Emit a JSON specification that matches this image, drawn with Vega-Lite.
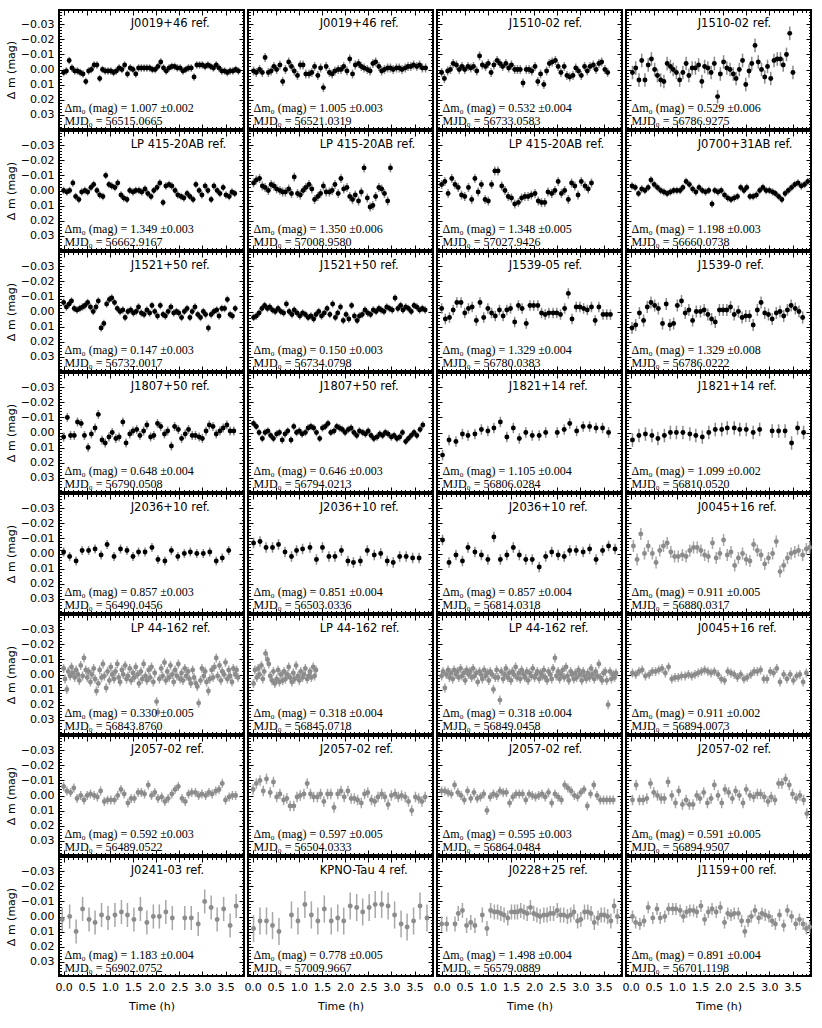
{
"$schema":"https://vega.github.io/schema/vega-lite/v6.json",
"padding":{"left":5,"top":9,"right":5,"bottom":5},
"background":"white",
"data":{"values":[
{"p":1,"n":"J0019+46 ref.","s":"Δm₀ (mag)  =  1.007 ±0.002\nMJD₀  =  56515.0665","e":0.0025},
{"p":2,"n":"J0019+46 ref.","s":"Δm₀ (mag)  =  1.005 ±0.003\nMJD₀  =  56521.0319","e":0.003},
{"p":3,"n":"J1510-02 ref.","s":"Δm₀ (mag)  =  0.532 ±0.004\nMJD₀  =  56733.0583","e":0.003},
{"p":4,"n":"J1510-02 ref.","s":"Δm₀ (mag)  =  0.529 ±0.006\nMJD₀  =  56786.9275","e":0.0045},
{"p":5,"n":"LP 415-20AB ref.","s":"Δm₀ (mag)  =  1.349 ±0.003\nMJD₀  =  56662.9167","e":0.0025},
{"p":6,"n":"LP 415-20AB ref.","s":"Δm₀ (mag)  =  1.350 ±0.006\nMJD₀  =  57008.9580","e":0.003},
{"p":7,"n":"LP 415-20AB ref.","s":"Δm₀ (mag)  =  1.348 ±0.005\nMJD₀  =  57027.9426","e":0.003},
{"p":8,"n":"J0700+31AB ref.","s":"Δm₀ (mag)  =  1.198 ±0.003\nMJD₀  =  56660.0738","e":0.0025},
{"p":9,"n":"J1521+50 ref.","s":"Δm₀ (mag)  =  0.147 ±0.003\nMJD₀  =  56732.0017","e":0.0025},
{"p":10,"n":"J1521+50 ref.","s":"Δm₀ (mag)  =  0.150 ±0.003\nMJD₀  =  56734.0798","e":0.0025},
{"p":11,"n":"J1539-05 ref.","s":"Δm₀ (mag)  =  1.329 ±0.004\nMJD₀  =  56780.0383","e":0.0035},
{"p":12,"n":"J1539-0 ref.","s":"Δm₀ (mag)  =  1.329 ±0.008\nMJD₀  =  56786.0222","e":0.004},
{"p":13,"n":"J1807+50 ref.","s":"Δm₀ (mag)  =  0.648 ±0.004\nMJD₀  =  56790.0508","e":0.003},
{"p":14,"n":"J1807+50 ref.","s":"Δm₀ (mag)  =  0.646 ±0.003\nMJD₀  =  56794.0213","e":0.0025},
{"p":15,"n":"J1821+14 ref.","s":"Δm₀ (mag)  =  1.105 ±0.004\nMJD₀  =  56806.0284","e":0.0035},
{"p":16,"n":"J1821+14 ref.","s":"Δm₀ (mag)  =  1.099 ±0.002\nMJD₀  =  56810.0520","e":0.0045},
{"p":17,"n":"J2036+10 ref.","s":"Δm₀ (mag)  =  0.857 ±0.003\nMJD₀  =  56490.0456","e":0.003},
{"p":18,"n":"J2036+10 ref.","s":"Δm₀ (mag)  =  0.851 ±0.004\nMJD₀  =  56503.0336","e":0.0035},
{"p":19,"n":"J2036+10 ref.","s":"Δm₀ (mag)  =  0.857 ±0.004\nMJD₀  =  56814.0318","e":0.0035},
{"p":20,"n":"J0045+16 ref.","s":"Δm₀ (mag)  =  0.911 ±0.005\nMJD₀  =  56880.0317","e":0.004},
{"p":21,"n":"LP 44-162 ref.","s":"Δm₀ (mag)  =  0.330 ±0.005\nMJD₀  =  56843.8760","e":0.003},
{"p":22,"n":"LP 44-162 ref.","s":"Δm₀ (mag)  =  0.318 ±0.004\nMJD₀  =  56845.0718","e":0.003},
{"p":23,"n":"LP 44-162 ref.","s":"Δm₀ (mag)  =  0.318 ±0.004\nMJD₀  =  56849.0458","e":0.003},
{"p":24,"n":"J0045+16 ref.","s":"Δm₀ (mag)  =  0.911 ±0.002\nMJD₀  =  56894.0073","e":0.003},
{"p":25,"n":"J2057-02 ref.","s":"Δm₀ (mag)  =  0.592 ±0.003\nMJD₀  =  56489.0522","e":0.003},
{"p":26,"n":"J2057-02 ref.","s":"Δm₀ (mag)  =  0.597 ±0.005\nMJD₀  =  56504.0333","e":0.0035},
{"p":27,"n":"J2057-02 ref.","s":"Δm₀ (mag)  =  0.595 ±0.003\nMJD₀  =  56864.0484","e":0.003},
{"p":28,"n":"J2057-02 ref.","s":"Δm₀ (mag)  =  0.591 ±0.005\nMJD₀  =  56894.9507","e":0.0035},
{"p":29,"n":"J0241-03 ref.","s":"Δm₀ (mag)  =  1.183 ±0.004\nMJD₀  =  56902.0752","e":0.008},
{"p":30,"n":"KPNO-Tau 4 ref.","s":"Δm₀ (mag)  =  0.778 ±0.005\nMJD₀  =  57009.9667","e":0.009},
{"p":31,"n":"J0228+25 ref.","s":"Δm₀ (mag)  =  1.498 ±0.004\nMJD₀  =  56579.0889","e":0.005},
{"p":32,"n":"J1159+00 ref.","s":"Δm₀ (mag)  =  0.891 ±0.004\nMJD₀  =  56701.1198","e":0.004},
{"p":1,"t":0,"m":0.002},{"p":1,"t":0.06,"m":0.001},{"p":1,"t":0.12,"m":-0.006},{"p":1,"t":0.18,"m":-0.001},{"p":1,"t":0.24,"m":0.001},{"p":1,"t":0.3,"m":0.001},{"p":1,"t":0.36,"m":0.002},{"p":1,"t":0.42,"m":0.003},{"p":1,"t":0.48,"m":0.008},{"p":1,"t":0.54,"m":0.001},{"p":1,"t":0.6,"m":0},{"p":1,"t":0.66,"m":-0.003},{"p":1,"t":0.72,"m":-0.003},{"p":1,"t":0.78,"m":0.006},{"p":1,"t":0.84,"m":0},{"p":1,"t":0.9,"m":0.001},{"p":1,"t":0.96,"m":0.001},{"p":1,"t":1.02,"m":0.001},{"p":1,"t":1.08,"m":0.002},{"p":1,"t":1.14,"m":0.001},{"p":1,"t":1.2,"m":-0.001},{"p":1,"t":1.26,"m":0},{"p":1,"t":1.32,"m":-0.003},{"p":1,"t":1.38,"m":0.003},{"p":1,"t":1.44,"m":-0.001},{"p":1,"t":1.5,"m":0},{"p":1,"t":1.56,"m":0.003},{"p":1,"t":1.62,"m":-0.001},{"p":1,"t":1.68,"m":-0.001},{"p":1,"t":1.74,"m":-0.001},{"p":1,"t":1.8,"m":-0.001},{"p":1,"t":1.86,"m":-0.001},{"p":1,"t":1.92,"m":0},{"p":1,"t":1.98,"m":0},{"p":1,"t":2.04,"m":-0.002},{"p":1,"t":2.1,"m":-0.005},{"p":1,"t":2.16,"m":-0.001},{"p":1,"t":2.22,"m":0.001},{"p":1,"t":2.28,"m":-0.001},{"p":1,"t":2.34,"m":-0.002},{"p":1,"t":2.4,"m":-0.002},{"p":1,"t":2.46,"m":-0.001},{"p":1,"t":2.52,"m":-0.001},{"p":1,"t":2.58,"m":0.001},{"p":1,"t":2.64,"m":0},{"p":1,"t":2.7,"m":-0.001},{"p":1,"t":2.76,"m":-0.001},{"p":1,"t":2.82,"m":0.005},{"p":1,"t":2.88,"m":-0.003},{"p":1,"t":2.94,"m":-0.003},{"p":1,"t":3,"m":-0.003},{"p":1,"t":3.06,"m":-0.002},{"p":1,"t":3.12,"m":-0.003},{"p":1,"t":3.18,"m":-0.002},{"p":1,"t":3.24,"m":-0.001},{"p":1,"t":3.3,"m":-0.003},{"p":1,"t":3.36,"m":-0.001},{"p":1,"t":3.42,"m":0.001},{"p":1,"t":3.48,"m":0.001},{"p":1,"t":3.54,"m":0.002},{"p":1,"t":3.6,"m":0.001},{"p":1,"t":3.66,"m":0.001},{"p":1,"t":3.72,"m":0},{"p":1,"t":3.78,"m":0.001},
{"p":2,"t":0.02,"m":0.001},{"p":2,"t":0.08,"m":0.002},{"p":2,"t":0.15,"m":0},{"p":2,"t":0.21,"m":0.002},{"p":2,"t":0.27,"m":-0.008},{"p":2,"t":0.34,"m":0.002},{"p":2,"t":0.4,"m":0.001},{"p":2,"t":0.46,"m":-0.002},{"p":2,"t":0.52,"m":0},{"p":2,"t":0.59,"m":-0.003},{"p":2,"t":0.65,"m":0.008},{"p":2,"t":0.71,"m":0},{"p":2,"t":0.78,"m":-0.005},{"p":2,"t":0.84,"m":-0.002},{"p":2,"t":0.9,"m":0.001},{"p":2,"t":0.97,"m":0.004},{"p":2,"t":1.03,"m":-0.003},{"p":2,"t":1.09,"m":-0.003},{"p":2,"t":1.15,"m":0.003},{"p":2,"t":1.22,"m":0.003},{"p":2,"t":1.28,"m":0.002},{"p":2,"t":1.34,"m":-0.002},{"p":2,"t":1.41,"m":0.004},{"p":2,"t":1.47,"m":-0.001},{"p":2,"t":1.53,"m":0.012},{"p":2,"t":1.59,"m":-0.002},{"p":2,"t":1.66,"m":0.002},{"p":2,"t":1.72,"m":0.003},{"p":2,"t":1.78,"m":0.001},{"p":2,"t":1.85,"m":0},{"p":2,"t":1.91,"m":0},{"p":2,"t":1.97,"m":-0.002},{"p":2,"t":2.04,"m":0.001},{"p":2,"t":2.1,"m":-0.007},{"p":2,"t":2.16,"m":0.003},{"p":2,"t":2.22,"m":-0.003},{"p":2,"t":2.29,"m":-0.004},{"p":2,"t":2.35,"m":-0.002},{"p":2,"t":2.41,"m":-0.001},{"p":2,"t":2.48,"m":0},{"p":2,"t":2.54,"m":0.001},{"p":2,"t":2.6,"m":-0.004},{"p":2,"t":2.66,"m":-0.005},{"p":2,"t":2.73,"m":-0.002},{"p":2,"t":2.79,"m":0.001},{"p":2,"t":2.85,"m":0},{"p":2,"t":2.92,"m":-0.001},{"p":2,"t":2.98,"m":-0.001},{"p":2,"t":3.04,"m":0},{"p":2,"t":3.11,"m":-0.001},{"p":2,"t":3.17,"m":-0.001},{"p":2,"t":3.23,"m":0},{"p":2,"t":3.3,"m":-0.001},{"p":2,"t":3.36,"m":-0.002},{"p":2,"t":3.42,"m":-0.002},{"p":2,"t":3.48,"m":-0.003},{"p":2,"t":3.55,"m":-0.002},{"p":2,"t":3.61,"m":-0.003},{"p":2,"t":3.67,"m":-0.001},{"p":2,"t":3.74,"m":-0.001},
{"p":3,"t":0,"m":0.002},{"p":3,"t":0.06,"m":0.006},{"p":3,"t":0.13,"m":0.001},{"p":3,"t":0.19,"m":0},{"p":3,"t":0.25,"m":-0.004},{"p":3,"t":0.32,"m":-0.003},{"p":3,"t":0.38,"m":0},{"p":3,"t":0.44,"m":-0.002},{"p":3,"t":0.5,"m":0},{"p":3,"t":0.57,"m":-0.002},{"p":3,"t":0.63,"m":-0.001},{"p":3,"t":0.69,"m":-0.002},{"p":3,"t":0.76,"m":0.001},{"p":3,"t":0.82,"m":-0.009},{"p":3,"t":0.88,"m":-0.003},{"p":3,"t":0.95,"m":-0.002},{"p":3,"t":1.01,"m":-0.004},{"p":3,"t":1.07,"m":0.002},{"p":3,"t":1.13,"m":-0.003},{"p":3,"t":1.2,"m":-0.006},{"p":3,"t":1.26,"m":-0.004},{"p":3,"t":1.32,"m":-0.002},{"p":3,"t":1.39,"m":-0.004},{"p":3,"t":1.45,"m":-0.001},{"p":3,"t":1.51,"m":-0.003},{"p":3,"t":1.58,"m":0},{"p":3,"t":1.64,"m":0},{"p":3,"t":1.7,"m":0},{"p":3,"t":1.76,"m":0.009},{"p":3,"t":1.83,"m":0},{"p":3,"t":1.89,"m":0},{"p":3,"t":1.95,"m":0.001},{"p":3,"t":2.02,"m":-0.002},{"p":3,"t":2.08,"m":0.008},{"p":3,"t":2.14,"m":0.003},{"p":3,"t":2.21,"m":0.01},{"p":3,"t":2.27,"m":0.001},{"p":3,"t":2.33,"m":-0.004},{"p":3,"t":2.39,"m":-0.005},{"p":3,"t":2.46,"m":-0.006},{"p":3,"t":2.52,"m":-0.002},{"p":3,"t":2.58,"m":0.002},{"p":3,"t":2.65,"m":-0.002},{"p":3,"t":2.71,"m":0.004},{"p":3,"t":2.77,"m":0.005},{"p":3,"t":2.84,"m":0.004},{"p":3,"t":2.9,"m":-0.001},{"p":3,"t":2.96,"m":0.001},{"p":3,"t":3.02,"m":0.004},{"p":3,"t":3.09,"m":-0.002},{"p":3,"t":3.15,"m":0.001},{"p":3,"t":3.21,"m":-0.002},{"p":3,"t":3.28,"m":-0.003},{"p":3,"t":3.34,"m":0},{"p":3,"t":3.4,"m":-0.004},{"p":3,"t":3.46,"m":-0.005},{"p":3,"t":3.53,"m":0},{"p":3,"t":3.59,"m":0.002},
{"p":4,"t":0.04,"m":0.002},{"p":4,"t":0.11,"m":-0.001},{"p":4,"t":0.18,"m":0.007},{"p":4,"t":0.24,"m":-0.006},{"p":4,"t":0.31,"m":0.007},{"p":4,"t":0.38,"m":-0.003},{"p":4,"t":0.45,"m":-0.007},{"p":4,"t":0.52,"m":0},{"p":4,"t":0.58,"m":0.004},{"p":4,"t":0.65,"m":0.007},{"p":4,"t":0.72,"m":0.008},{"p":4,"t":0.79,"m":-0.004},{"p":4,"t":0.86,"m":-0.002},{"p":4,"t":0.92,"m":0},{"p":4,"t":0.99,"m":0.002},{"p":4,"t":1.06,"m":0.007},{"p":4,"t":1.13,"m":0.002},{"p":4,"t":1.2,"m":-0.004},{"p":4,"t":1.26,"m":0.004},{"p":4,"t":1.33,"m":-0.001},{"p":4,"t":1.4,"m":-0.001},{"p":4,"t":1.47,"m":-0.003},{"p":4,"t":1.54,"m":0.008},{"p":4,"t":1.6,"m":-0.002},{"p":4,"t":1.67,"m":-0.001},{"p":4,"t":1.74,"m":0.002},{"p":4,"t":1.81,"m":-0.004},{"p":4,"t":1.88,"m":0.018},{"p":4,"t":1.94,"m":0.003},{"p":4,"t":2.01,"m":-0.005},{"p":4,"t":2.08,"m":-0.001},{"p":4,"t":2.15,"m":0},{"p":4,"t":2.22,"m":0.003},{"p":4,"t":2.28,"m":0.006},{"p":4,"t":2.35,"m":0},{"p":4,"t":2.42,"m":-0.006},{"p":4,"t":2.49,"m":0.01},{"p":4,"t":2.56,"m":0.001},{"p":4,"t":2.62,"m":-0.004},{"p":4,"t":2.69,"m":-0.016},{"p":4,"t":2.76,"m":-0.005},{"p":4,"t":2.83,"m":0},{"p":4,"t":2.9,"m":0.005},{"p":4,"t":2.96,"m":-0.002},{"p":4,"t":3.03,"m":0.006},{"p":4,"t":3.1,"m":-0.006},{"p":4,"t":3.17,"m":-0.007},{"p":4,"t":3.24,"m":-0.007},{"p":4,"t":3.3,"m":-0.003},{"p":4,"t":3.37,"m":-0.01},{"p":4,"t":3.44,"m":-0.024},{"p":4,"t":3.51,"m":0.002},
{"p":5,"t":0,"m":0},{"p":5,"t":0.07,"m":0.001},{"p":5,"t":0.13,"m":0},{"p":5,"t":0.2,"m":-0.005},{"p":5,"t":0.26,"m":0.004},{"p":5,"t":0.33,"m":0.006},{"p":5,"t":0.39,"m":0.001},{"p":5,"t":0.46,"m":0},{"p":5,"t":0.52,"m":0.001},{"p":5,"t":0.59,"m":-0.002},{"p":5,"t":0.65,"m":-0.004},{"p":5,"t":0.72,"m":0},{"p":5,"t":0.78,"m":0.003},{"p":5,"t":0.85,"m":0.004},{"p":5,"t":0.91,"m":-0.01},{"p":5,"t":0.98,"m":-0.004},{"p":5,"t":1.04,"m":-0.003},{"p":5,"t":1.11,"m":-0.002},{"p":5,"t":1.17,"m":-0.005},{"p":5,"t":1.24,"m":0.003},{"p":5,"t":1.3,"m":0.005},{"p":5,"t":1.37,"m":0.006},{"p":5,"t":1.43,"m":0},{"p":5,"t":1.5,"m":0.001},{"p":5,"t":1.56,"m":0},{"p":5,"t":1.63,"m":0},{"p":5,"t":1.69,"m":0.001},{"p":5,"t":1.76,"m":-0.001},{"p":5,"t":1.82,"m":0.002},{"p":5,"t":1.89,"m":0.004},{"p":5,"t":1.95,"m":0},{"p":5,"t":2.02,"m":-0.002},{"p":5,"t":2.08,"m":-0.005},{"p":5,"t":2.15,"m":0.008},{"p":5,"t":2.21,"m":-0.003},{"p":5,"t":2.28,"m":-0.004},{"p":5,"t":2.34,"m":-0.003},{"p":5,"t":2.41,"m":0},{"p":5,"t":2.47,"m":0.003},{"p":5,"t":2.54,"m":0.004},{"p":5,"t":2.6,"m":0.005},{"p":5,"t":2.67,"m":0.002},{"p":5,"t":2.73,"m":0.004},{"p":5,"t":2.8,"m":0.006},{"p":5,"t":2.86,"m":-0.004},{"p":5,"t":2.93,"m":0},{"p":5,"t":2.99,"m":0.003},{"p":5,"t":3.06,"m":-0.003},{"p":5,"t":3.12,"m":0},{"p":5,"t":3.19,"m":0.006},{"p":5,"t":3.25,"m":-0.003},{"p":5,"t":3.32,"m":0},{"p":5,"t":3.38,"m":0.002},{"p":5,"t":3.45,"m":-0.002},{"p":5,"t":3.51,"m":0.003},{"p":5,"t":3.58,"m":0.004},{"p":5,"t":3.64,"m":0.001},{"p":5,"t":3.7,"m":0.002},
{"p":6,"t":0.02,"m":-0.005},{"p":6,"t":0.08,"m":-0.007},{"p":6,"t":0.15,"m":-0.008},{"p":6,"t":0.21,"m":-0.003},{"p":6,"t":0.27,"m":-0.002},{"p":6,"t":0.34,"m":0},{"p":6,"t":0.4,"m":-0.004},{"p":6,"t":0.46,"m":-0.003},{"p":6,"t":0.52,"m":-0.001},{"p":6,"t":0.59,"m":0},{"p":6,"t":0.65,"m":0.001},{"p":6,"t":0.71,"m":0.001},{"p":6,"t":0.78,"m":-0.001},{"p":6,"t":0.84,"m":0.002},{"p":6,"t":0.9,"m":-0.009},{"p":6,"t":0.97,"m":0.002},{"p":6,"t":1.03,"m":0.003},{"p":6,"t":1.09,"m":0},{"p":6,"t":1.15,"m":-0.002},{"p":6,"t":1.22,"m":-0.004},{"p":6,"t":1.28,"m":-0.001},{"p":6,"t":1.34,"m":0.006},{"p":6,"t":1.41,"m":0.004},{"p":6,"t":1.47,"m":0.002},{"p":6,"t":1.53,"m":-0.003},{"p":6,"t":1.59,"m":0.001},{"p":6,"t":1.66,"m":0.001},{"p":6,"t":1.72,"m":0},{"p":6,"t":1.78,"m":-0.004},{"p":6,"t":1.85,"m":0.002},{"p":6,"t":1.91,"m":-0.008},{"p":6,"t":1.97,"m":-0.001},{"p":6,"t":2.04,"m":-0.002},{"p":6,"t":2.1,"m":0.004},{"p":6,"t":2.16,"m":0.006},{"p":6,"t":2.22,"m":0.003},{"p":6,"t":2.29,"m":0.007},{"p":6,"t":2.35,"m":0.001},{"p":6,"t":2.41,"m":-0.015},{"p":6,"t":2.48,"m":0.005},{"p":6,"t":2.54,"m":0.011},{"p":6,"t":2.6,"m":0.01},{"p":6,"t":2.66,"m":0.004},{"p":6,"t":2.73,"m":-0.002},{"p":6,"t":2.79,"m":-0.001},{"p":6,"t":2.85,"m":0.002},{"p":6,"t":2.92,"m":0.007},{"p":6,"t":2.98,"m":-0.015},
{"p":7,"t":0,"m":-0.004},{"p":7,"t":0.07,"m":-0.006},{"p":7,"t":0.14,"m":0.002},{"p":7,"t":0.22,"m":-0.008},{"p":7,"t":0.29,"m":-0.004},{"p":7,"t":0.36,"m":-0.002},{"p":7,"t":0.43,"m":0.003},{"p":7,"t":0.5,"m":0.004},{"p":7,"t":0.58,"m":-0.002},{"p":7,"t":0.65,"m":0.006},{"p":7,"t":0.72,"m":-0.008},{"p":7,"t":0.79,"m":0.001},{"p":7,"t":0.86,"m":-0.004},{"p":7,"t":0.94,"m":0.006},{"p":7,"t":1.01,"m":0.007},{"p":7,"t":1.08,"m":-0.004},{"p":7,"t":1.15,"m":-0.013},{"p":7,"t":1.22,"m":-0.013},{"p":7,"t":1.3,"m":-0.003},{"p":7,"t":1.37,"m":0},{"p":7,"t":1.44,"m":0.004},{"p":7,"t":1.51,"m":0.005},{"p":7,"t":1.58,"m":0.009},{"p":7,"t":1.66,"m":0.008},{"p":7,"t":1.73,"m":0.005},{"p":7,"t":1.8,"m":0.004},{"p":7,"t":1.87,"m":0.004},{"p":7,"t":1.94,"m":0.003},{"p":7,"t":2.02,"m":0.002},{"p":7,"t":2.09,"m":0.007},{"p":7,"t":2.16,"m":0.008},{"p":7,"t":2.23,"m":0.008},{"p":7,"t":2.3,"m":0.001},{"p":7,"t":2.38,"m":0.002},{"p":7,"t":2.45,"m":0},{"p":7,"t":2.52,"m":-0.006},{"p":7,"t":2.59,"m":0.002},{"p":7,"t":2.66,"m":0},{"p":7,"t":2.74,"m":0.006},{"p":7,"t":2.81,"m":-0.005},{"p":7,"t":2.88,"m":-0.003},{"p":7,"t":2.95,"m":0.003},{"p":7,"t":3.02,"m":-0.006},{"p":7,"t":3.1,"m":-0.003},{"p":7,"t":3.17,"m":-0.001},{"p":7,"t":3.24,"m":-0.005},
{"p":8,"t":0.03,"m":-0.003},{"p":8,"t":0.1,"m":-0.002},{"p":8,"t":0.17,"m":0.002},{"p":8,"t":0.24,"m":-0.001},{"p":8,"t":0.31,"m":0},{"p":8,"t":0.38,"m":-0.002},{"p":8,"t":0.44,"m":-0.007},{"p":8,"t":0.51,"m":-0.004},{"p":8,"t":0.58,"m":-0.002},{"p":8,"t":0.65,"m":0},{"p":8,"t":0.72,"m":0.001},{"p":8,"t":0.79,"m":0.002},{"p":8,"t":0.86,"m":0.001},{"p":8,"t":0.93,"m":0},{"p":8,"t":1,"m":0},{"p":8,"t":1.07,"m":0},{"p":8,"t":1.13,"m":-0.002},{"p":8,"t":1.2,"m":-0.006},{"p":8,"t":1.27,"m":-0.004},{"p":8,"t":1.34,"m":-0.001},{"p":8,"t":1.41,"m":0.001},{"p":8,"t":1.48,"m":-0.002},{"p":8,"t":1.55,"m":0},{"p":8,"t":1.62,"m":0.001},{"p":8,"t":1.69,"m":0},{"p":8,"t":1.76,"m":0.009},{"p":8,"t":1.82,"m":0},{"p":8,"t":1.89,"m":0.001},{"p":8,"t":1.96,"m":0},{"p":8,"t":2.03,"m":0.003},{"p":8,"t":2.1,"m":0.005},{"p":8,"t":2.17,"m":0.006},{"p":8,"t":2.24,"m":0.005},{"p":8,"t":2.31,"m":0.004},{"p":8,"t":2.38,"m":-0.002},{"p":8,"t":2.45,"m":0},{"p":8,"t":2.51,"m":-0.002},{"p":8,"t":2.58,"m":0.004},{"p":8,"t":2.65,"m":0.004},{"p":8,"t":2.72,"m":0.003},{"p":8,"t":2.79,"m":0},{"p":8,"t":2.86,"m":-0.002},{"p":8,"t":2.93,"m":0},{"p":8,"t":3,"m":0},{"p":8,"t":3.07,"m":0.001},{"p":8,"t":3.13,"m":0.002},{"p":8,"t":3.2,"m":0.004},{"p":8,"t":3.27,"m":0.006},{"p":8,"t":3.34,"m":0.002},{"p":8,"t":3.41,"m":0},{"p":8,"t":3.48,"m":-0.002},{"p":8,"t":3.55,"m":-0.004},{"p":8,"t":3.62,"m":-0.005},{"p":8,"t":3.69,"m":-0.003},{"p":8,"t":3.76,"m":-0.004},{"p":8,"t":3.83,"m":-0.006},
{"p":9,"t":0,"m":-0.006},{"p":9,"t":0.06,"m":-0.003},{"p":9,"t":0.12,"m":-0.005},{"p":9,"t":0.17,"m":-0.007},{"p":9,"t":0.23,"m":-0.002},{"p":9,"t":0.29,"m":-0.001},{"p":9,"t":0.35,"m":-0.002},{"p":9,"t":0.41,"m":-0.003},{"p":9,"t":0.46,"m":-0.004},{"p":9,"t":0.52,"m":-0.006},{"p":9,"t":0.58,"m":-0.003},{"p":9,"t":0.64,"m":0},{"p":9,"t":0.7,"m":-0.003},{"p":9,"t":0.75,"m":-0.007},{"p":9,"t":0.81,"m":0.011},{"p":9,"t":0.87,"m":0.008},{"p":9,"t":0.93,"m":-0.005},{"p":9,"t":0.99,"m":-0.008},{"p":9,"t":1.04,"m":-0.009},{"p":9,"t":1.1,"m":-0.006},{"p":9,"t":1.16,"m":-0.002},{"p":9,"t":1.22,"m":0},{"p":9,"t":1.28,"m":-0.001},{"p":9,"t":1.33,"m":0.004},{"p":9,"t":1.39,"m":0},{"p":9,"t":1.45,"m":-0.001},{"p":9,"t":1.51,"m":0.001},{"p":9,"t":1.57,"m":0},{"p":9,"t":1.62,"m":-0.003},{"p":9,"t":1.68,"m":0.001},{"p":9,"t":1.74,"m":0.002},{"p":9,"t":1.8,"m":-0.001},{"p":9,"t":1.86,"m":0.001},{"p":9,"t":1.91,"m":-0.004},{"p":9,"t":1.97,"m":0},{"p":9,"t":2.03,"m":0.003},{"p":9,"t":2.09,"m":-0.004},{"p":9,"t":2.15,"m":0.002},{"p":9,"t":2.2,"m":0.003},{"p":9,"t":2.26,"m":0},{"p":9,"t":2.32,"m":-0.003},{"p":9,"t":2.38,"m":0.001},{"p":9,"t":2.44,"m":0},{"p":9,"t":2.49,"m":0.001},{"p":9,"t":2.55,"m":0.004},{"p":9,"t":2.61,"m":0},{"p":9,"t":2.67,"m":-0.002},{"p":9,"t":2.73,"m":0.004},{"p":9,"t":2.78,"m":0},{"p":9,"t":2.84,"m":-0.003},{"p":9,"t":2.9,"m":0.002},{"p":9,"t":2.96,"m":0.004},{"p":9,"t":3.02,"m":0},{"p":9,"t":3.07,"m":0.002},{"p":9,"t":3.13,"m":0.011},{"p":9,"t":3.19,"m":0.002},{"p":9,"t":3.25,"m":0},{"p":9,"t":3.31,"m":-0.001},{"p":9,"t":3.36,"m":0.003},{"p":9,"t":3.42,"m":-0.002},{"p":9,"t":3.48,"m":-0.002},{"p":9,"t":3.54,"m":-0.008},{"p":9,"t":3.6,"m":0.002},{"p":9,"t":3.65,"m":0.003},{"p":9,"t":3.71,"m":-0.002},
{"p":10,"t":0.02,"m":0.004},{"p":10,"t":0.08,"m":0.003},{"p":10,"t":0.14,"m":0.001},{"p":10,"t":0.2,"m":-0.002},{"p":10,"t":0.26,"m":-0.004},{"p":10,"t":0.32,"m":-0.002},{"p":10,"t":0.37,"m":-0.003},{"p":10,"t":0.43,"m":-0.001},{"p":10,"t":0.49,"m":0},{"p":10,"t":0.55,"m":-0.002},{"p":10,"t":0.61,"m":0},{"p":10,"t":0.67,"m":0.001},{"p":10,"t":0.73,"m":-0.005},{"p":10,"t":0.79,"m":0},{"p":10,"t":0.85,"m":0.002},{"p":10,"t":0.9,"m":-0.001},{"p":10,"t":0.96,"m":0.001},{"p":10,"t":1.02,"m":0.003},{"p":10,"t":1.08,"m":0.001},{"p":10,"t":1.14,"m":0.002},{"p":10,"t":1.2,"m":0.004},{"p":10,"t":1.26,"m":0.003},{"p":10,"t":1.32,"m":0.005},{"p":10,"t":1.37,"m":0.002},{"p":10,"t":1.43,"m":0},{"p":10,"t":1.49,"m":0.003},{"p":10,"t":1.55,"m":0.001},{"p":10,"t":1.61,"m":-0.002},{"p":10,"t":1.67,"m":0.002},{"p":10,"t":1.73,"m":-0.005},{"p":10,"t":1.79,"m":0.004},{"p":10,"t":1.84,"m":0.001},{"p":10,"t":1.9,"m":-0.003},{"p":10,"t":1.96,"m":0.006},{"p":10,"t":2.02,"m":0.002},{"p":10,"t":2.08,"m":0.005},{"p":10,"t":2.14,"m":-0.004},{"p":10,"t":2.2,"m":0.003},{"p":10,"t":2.26,"m":0.006},{"p":10,"t":2.31,"m":0.003},{"p":10,"t":2.37,"m":0.002},{"p":10,"t":2.43,"m":-0.001},{"p":10,"t":2.49,"m":0.001},{"p":10,"t":2.55,"m":0.002},{"p":10,"t":2.61,"m":-0.001},{"p":10,"t":2.67,"m":0},{"p":10,"t":2.73,"m":-0.002},{"p":10,"t":2.78,"m":-0.001},{"p":10,"t":2.84,"m":0},{"p":10,"t":2.9,"m":-0.003},{"p":10,"t":2.96,"m":-0.002},{"p":10,"t":3.02,"m":-0.001},{"p":10,"t":3.08,"m":-0.009},{"p":10,"t":3.14,"m":-0.002},{"p":10,"t":3.2,"m":-0.004},{"p":10,"t":3.25,"m":-0.001},{"p":10,"t":3.31,"m":-0.003},{"p":10,"t":3.37,"m":-0.002},{"p":10,"t":3.43,"m":0},{"p":10,"t":3.49,"m":-0.004},{"p":10,"t":3.55,"m":-0.003},{"p":10,"t":3.61,"m":-0.001},{"p":10,"t":3.67,"m":-0.002},{"p":10,"t":3.73,"m":-0.001},
{"p":11,"t":0,"m":-0.002},{"p":11,"t":0.08,"m":0.005},{"p":11,"t":0.17,"m":0.004},{"p":11,"t":0.25,"m":-0.001},{"p":11,"t":0.33,"m":-0.006},{"p":11,"t":0.42,"m":-0.006},{"p":11,"t":0.5,"m":0.001},{"p":11,"t":0.58,"m":-0.002},{"p":11,"t":0.66,"m":-0.003},{"p":11,"t":0.75,"m":0.006},{"p":11,"t":0.83,"m":-0.006},{"p":11,"t":0.91,"m":0.004},{"p":11,"t":1,"m":-0.002},{"p":11,"t":1.08,"m":0.001},{"p":11,"t":1.16,"m":0.003},{"p":11,"t":1.25,"m":-0.001},{"p":11,"t":1.33,"m":0.003},{"p":11,"t":1.41,"m":-0.001},{"p":11,"t":1.49,"m":-0.002},{"p":11,"t":1.58,"m":0.007},{"p":11,"t":1.66,"m":-0.004},{"p":11,"t":1.74,"m":-0.002},{"p":11,"t":1.83,"m":0.008},{"p":11,"t":1.91,"m":-0.004},{"p":11,"t":1.99,"m":-0.004},{"p":11,"t":2.08,"m":-0.004},{"p":11,"t":2.16,"m":0.001},{"p":11,"t":2.24,"m":0.002},{"p":11,"t":2.32,"m":0.001},{"p":11,"t":2.41,"m":0.001},{"p":11,"t":2.49,"m":0.001},{"p":11,"t":2.57,"m":0.002},{"p":11,"t":2.66,"m":-0.002},{"p":11,"t":2.74,"m":-0.012},{"p":11,"t":2.82,"m":0.005},{"p":11,"t":2.91,"m":-0.003},{"p":11,"t":2.99,"m":-0.003},{"p":11,"t":3.07,"m":-0.002},{"p":11,"t":3.15,"m":-0.001},{"p":11,"t":3.24,"m":-0.003},{"p":11,"t":3.32,"m":0.006},{"p":11,"t":3.4,"m":-0.003},{"p":11,"t":3.49,"m":0.002},{"p":11,"t":3.57,"m":0.002},{"p":11,"t":3.65,"m":0.002},
{"p":12,"t":0.03,"m":0.011},{"p":12,"t":0.11,"m":0.009},{"p":12,"t":0.19,"m":0.001},{"p":12,"t":0.28,"m":0.006},{"p":12,"t":0.36,"m":-0.003},{"p":12,"t":0.44,"m":-0.006},{"p":12,"t":0.52,"m":-0.004},{"p":12,"t":0.6,"m":-0.002},{"p":12,"t":0.69,"m":0.008},{"p":12,"t":0.77,"m":-0.005},{"p":12,"t":0.85,"m":0.009},{"p":12,"t":0.93,"m":0.008},{"p":12,"t":1.01,"m":-0.004},{"p":12,"t":1.1,"m":-0.007},{"p":12,"t":1.18,"m":0.001},{"p":12,"t":1.26,"m":-0.001},{"p":12,"t":1.34,"m":0.006},{"p":12,"t":1.42,"m":0},{"p":12,"t":1.51,"m":0},{"p":12,"t":1.59,"m":-0.001},{"p":12,"t":1.67,"m":0.002},{"p":12,"t":1.75,"m":0.005},{"p":12,"t":1.83,"m":0.007},{"p":12,"t":1.92,"m":-0.001},{"p":12,"t":2,"m":-0.001},{"p":12,"t":2.08,"m":-0.001},{"p":12,"t":2.16,"m":-0.003},{"p":12,"t":2.24,"m":0.002},{"p":12,"t":2.33,"m":0},{"p":12,"t":2.41,"m":0.004},{"p":12,"t":2.49,"m":0.003},{"p":12,"t":2.57,"m":0.003},{"p":12,"t":2.65,"m":0.009},{"p":12,"t":2.74,"m":-0.001},{"p":12,"t":2.82,"m":-0.006},{"p":12,"t":2.9,"m":0.001},{"p":12,"t":2.98,"m":0.002},{"p":12,"t":3.06,"m":0.005},{"p":12,"t":3.15,"m":0.001},{"p":12,"t":3.23,"m":0},{"p":12,"t":3.31,"m":0.003},{"p":12,"t":3.39,"m":-0.001},{"p":12,"t":3.47,"m":-0.004},{"p":12,"t":3.56,"m":-0.002},{"p":12,"t":3.64,"m":0},{"p":12,"t":3.72,"m":0.004},
{"p":13,"t":0,"m":0.003},{"p":13,"t":0.08,"m":-0.01},{"p":13,"t":0.15,"m":0.002},{"p":13,"t":0.23,"m":0.002},{"p":13,"t":0.3,"m":-0.007},{"p":13,"t":0.38,"m":-0.006},{"p":13,"t":0.45,"m":0.002},{"p":13,"t":0.53,"m":0.01},{"p":13,"t":0.6,"m":0.001},{"p":13,"t":0.68,"m":-0.003},{"p":13,"t":0.75,"m":-0.012},{"p":13,"t":0.83,"m":0.005},{"p":13,"t":0.9,"m":0.007},{"p":13,"t":0.98,"m":0.003},{"p":13,"t":1.05,"m":0},{"p":13,"t":1.13,"m":0.004},{"p":13,"t":1.2,"m":0.003},{"p":13,"t":1.28,"m":-0.007},{"p":13,"t":1.35,"m":0.007},{"p":13,"t":1.43,"m":0.001},{"p":13,"t":1.5,"m":-0.001},{"p":13,"t":1.58,"m":-0.002},{"p":13,"t":1.65,"m":0.002},{"p":13,"t":1.73,"m":-0.001},{"p":13,"t":1.8,"m":-0.005},{"p":13,"t":1.88,"m":0.003},{"p":13,"t":1.95,"m":0.002},{"p":13,"t":2.03,"m":-0.006},{"p":13,"t":2.1,"m":-0.004},{"p":13,"t":2.18,"m":0.001},{"p":13,"t":2.25,"m":-0.001},{"p":13,"t":2.33,"m":0.009},{"p":13,"t":2.4,"m":-0.004},{"p":13,"t":2.48,"m":-0.002},{"p":13,"t":2.55,"m":0.004},{"p":13,"t":2.63,"m":0.001},{"p":13,"t":2.7,"m":-0.002},{"p":13,"t":2.78,"m":0.002},{"p":13,"t":2.85,"m":0.002},{"p":13,"t":2.93,"m":0.003},{"p":13,"t":3,"m":0.004},{"p":13,"t":3.08,"m":-0.001},{"p":13,"t":3.15,"m":-0.005},{"p":13,"t":3.23,"m":-0.004},{"p":13,"t":3.3,"m":0.001},{"p":13,"t":3.38,"m":-0.001},{"p":13,"t":3.45,"m":-0.003},{"p":13,"t":3.53,"m":-0.005},{"p":13,"t":3.6,"m":-0.001},{"p":13,"t":3.68,"m":-0.001},
{"p":14,"t":0.02,"m":-0.006},{"p":14,"t":0.08,"m":-0.004},{"p":14,"t":0.14,"m":0},{"p":14,"t":0.21,"m":0.004},{"p":14,"t":0.27,"m":0},{"p":14,"t":0.33,"m":-0.001},{"p":14,"t":0.39,"m":0.002},{"p":14,"t":0.45,"m":0.004},{"p":14,"t":0.52,"m":0.001},{"p":14,"t":0.58,"m":0},{"p":14,"t":0.64,"m":0.005},{"p":14,"t":0.7,"m":0.001},{"p":14,"t":0.76,"m":-0.001},{"p":14,"t":0.83,"m":0.005},{"p":14,"t":0.89,"m":-0.004},{"p":14,"t":0.95,"m":0},{"p":14,"t":1.01,"m":-0.001},{"p":14,"t":1.07,"m":0.001},{"p":14,"t":1.14,"m":0},{"p":14,"t":1.2,"m":-0.003},{"p":14,"t":1.26,"m":-0.004},{"p":14,"t":1.32,"m":-0.003},{"p":14,"t":1.38,"m":0},{"p":14,"t":1.45,"m":0.004},{"p":14,"t":1.51,"m":-0.003},{"p":14,"t":1.57,"m":-0.004},{"p":14,"t":1.63,"m":-0.006},{"p":14,"t":1.69,"m":0},{"p":14,"t":1.76,"m":-0.001},{"p":14,"t":1.82,"m":-0.004},{"p":14,"t":1.88,"m":-0.003},{"p":14,"t":1.94,"m":-0.002},{"p":14,"t":2,"m":0},{"p":14,"t":2.07,"m":-0.002},{"p":14,"t":2.13,"m":-0.003},{"p":14,"t":2.19,"m":0},{"p":14,"t":2.25,"m":0.002},{"p":14,"t":2.31,"m":-0.001},{"p":14,"t":2.38,"m":0},{"p":14,"t":2.44,"m":0.001},{"p":14,"t":2.5,"m":-0.001},{"p":14,"t":2.56,"m":0.002},{"p":14,"t":2.62,"m":0.004},{"p":14,"t":2.69,"m":0.003},{"p":14,"t":2.75,"m":0.001},{"p":14,"t":2.81,"m":0.002},{"p":14,"t":2.87,"m":0},{"p":14,"t":2.93,"m":0.001},{"p":14,"t":3,"m":0.003},{"p":14,"t":3.06,"m":0.002},{"p":14,"t":3.12,"m":0.004},{"p":14,"t":3.18,"m":0.003},{"p":14,"t":3.24,"m":0},{"p":14,"t":3.31,"m":0.006},{"p":14,"t":3.37,"m":0.004},{"p":14,"t":3.43,"m":0.002},{"p":14,"t":3.49,"m":0},{"p":14,"t":3.55,"m":0.002},{"p":14,"t":3.62,"m":-0.002},{"p":14,"t":3.68,"m":-0.005},
{"p":15,"t":0.02,"m":0.015},{"p":15,"t":0.16,"m":0.005},{"p":15,"t":0.31,"m":0.006},{"p":15,"t":0.45,"m":0.001},{"p":15,"t":0.57,"m":0.002},{"p":15,"t":0.72,"m":0.001},{"p":15,"t":0.86,"m":-0.002},{"p":15,"t":1,"m":-0.001},{"p":15,"t":1.13,"m":-0.003},{"p":15,"t":1.27,"m":-0.007},{"p":15,"t":1.41,"m":0.003},{"p":15,"t":1.55,"m":-0.003},{"p":15,"t":1.68,"m":0.004},{"p":15,"t":1.82,"m":0},{"p":15,"t":1.96,"m":0.002},{"p":15,"t":2.11,"m":0.002},{"p":15,"t":2.25,"m":0},{"p":15,"t":2.5,"m":0},{"p":15,"t":2.65,"m":-0.002},{"p":15,"t":2.77,"m":-0.006},{"p":15,"t":2.92,"m":-0.001},{"p":15,"t":3.06,"m":-0.004},{"p":15,"t":3.2,"m":-0.004},{"p":15,"t":3.34,"m":-0.003},{"p":15,"t":3.48,"m":-0.003},{"p":15,"t":3.61,"m":0},
{"p":16,"t":0.04,"m":0.005},{"p":16,"t":0.18,"m":0.002},{"p":16,"t":0.32,"m":0.001},{"p":16,"t":0.46,"m":0.002},{"p":16,"t":0.59,"m":0.004},{"p":16,"t":0.73,"m":0.002},{"p":16,"t":0.86,"m":0},{"p":16,"t":0.99,"m":0},{"p":16,"t":1.13,"m":0},{"p":16,"t":1.28,"m":0.001},{"p":16,"t":1.41,"m":0.002},{"p":16,"t":1.55,"m":0.003},{"p":16,"t":1.69,"m":0},{"p":16,"t":1.83,"m":-0.002},{"p":16,"t":1.97,"m":-0.002},{"p":16,"t":2.09,"m":-0.003},{"p":16,"t":2.24,"m":-0.003},{"p":16,"t":2.36,"m":-0.002},{"p":16,"t":2.5,"m":-0.002},{"p":16,"t":2.65,"m":0},{"p":16,"t":2.79,"m":-0.002},{"p":16,"t":3.06,"m":-0.001},{"p":16,"t":3.2,"m":-0.001},{"p":16,"t":3.34,"m":-0.001},{"p":16,"t":3.48,"m":0.007},{"p":16,"t":3.61,"m":-0.003},{"p":16,"t":3.74,"m":0},
{"p":17,"t":0,"m":-0.001},{"p":17,"t":0.13,"m":0.002},{"p":17,"t":0.27,"m":0.005},{"p":17,"t":0.4,"m":-0.002},{"p":17,"t":0.54,"m":-0.002},{"p":17,"t":0.68,"m":-0.003},{"p":17,"t":0.81,"m":0.001},{"p":17,"t":0.94,"m":-0.006},{"p":17,"t":1.09,"m":0.002},{"p":17,"t":1.23,"m":-0.003},{"p":17,"t":1.37,"m":-0.002},{"p":17,"t":1.5,"m":0.002},{"p":17,"t":1.62,"m":-0.001},{"p":17,"t":1.76,"m":-0.001},{"p":17,"t":1.91,"m":-0.004},{"p":17,"t":2.04,"m":0.004},{"p":17,"t":2.19,"m":0.005},{"p":17,"t":2.33,"m":-0.002},{"p":17,"t":2.47,"m":0.002},{"p":17,"t":2.61,"m":0},{"p":17,"t":2.74,"m":-0.001},{"p":17,"t":2.88,"m":0},{"p":17,"t":3.02,"m":0},{"p":17,"t":3.16,"m":-0.001},{"p":17,"t":3.3,"m":0.005},{"p":17,"t":3.43,"m":0.003},{"p":17,"t":3.57,"m":-0.002},
{"p":18,"t":0.02,"m":-0.007},{"p":18,"t":0.16,"m":-0.008},{"p":18,"t":0.29,"m":-0.004},{"p":18,"t":0.43,"m":-0.004},{"p":18,"t":0.56,"m":-0.006},{"p":18,"t":0.7,"m":-0.001},{"p":18,"t":0.84,"m":0.002},{"p":18,"t":0.95,"m":-0.002},{"p":18,"t":1.08,"m":-0.003},{"p":18,"t":1.24,"m":-0.004},{"p":18,"t":1.38,"m":0.004},{"p":18,"t":1.51,"m":-0.004},{"p":18,"t":1.65,"m":0.002},{"p":18,"t":1.78,"m":0.002},{"p":18,"t":1.92,"m":-0.002},{"p":18,"t":2.06,"m":0.005},{"p":18,"t":2.18,"m":0.006},{"p":18,"t":2.33,"m":0.005},{"p":18,"t":2.48,"m":-0.002},{"p":18,"t":2.63,"m":0.001},{"p":18,"t":2.77,"m":0},{"p":18,"t":2.91,"m":0.005},{"p":18,"t":3.04,"m":0.006},{"p":18,"t":3.18,"m":0.002},{"p":18,"t":3.32,"m":0.002},{"p":18,"t":3.46,"m":0.003},{"p":18,"t":3.6,"m":0.003},
{"p":19,"t":0.02,"m":-0.009},{"p":19,"t":0.16,"m":0.006},{"p":19,"t":0.31,"m":0.001},{"p":19,"t":0.45,"m":0.005},{"p":19,"t":0.57,"m":-0.004},{"p":19,"t":0.72,"m":-0.001},{"p":19,"t":0.86,"m":0.001},{"p":19,"t":1,"m":0.004},{"p":19,"t":1.13,"m":-0.011},{"p":19,"t":1.27,"m":0.004},{"p":19,"t":1.41,"m":0.001},{"p":19,"t":1.55,"m":-0.004},{"p":19,"t":1.68,"m":0.001},{"p":19,"t":1.82,"m":0.004},{"p":19,"t":1.96,"m":0.004},{"p":19,"t":2.11,"m":0.009},{"p":19,"t":2.25,"m":0.002},{"p":19,"t":2.38,"m":-0.001},{"p":19,"t":2.52,"m":0.001},{"p":19,"t":2.65,"m":0.002},{"p":19,"t":2.77,"m":-0.002},{"p":19,"t":2.91,"m":-0.002},{"p":19,"t":3.06,"m":-0.001},{"p":19,"t":3.2,"m":-0.003},{"p":19,"t":3.34,"m":0.004},{"p":19,"t":3.48,"m":-0.002},{"p":19,"t":3.61,"m":-0.005},{"p":19,"t":3.75,"m":-0.003},
{"p":20,"t":0.06,"m":-0.005},{"p":20,"t":0.14,"m":0.004},{"p":20,"t":0.22,"m":-0.013},{"p":20,"t":0.3,"m":0},{"p":20,"t":0.38,"m":-0.005},{"p":20,"t":0.47,"m":0},{"p":20,"t":0.55,"m":0.006},{"p":20,"t":0.63,"m":-0.002},{"p":20,"t":0.71,"m":-0.005},{"p":20,"t":0.79,"m":-0.007},{"p":20,"t":0.87,"m":-0.001},{"p":20,"t":0.95,"m":0.002},{"p":20,"t":1.03,"m":0.002},{"p":20,"t":1.12,"m":0.001},{"p":20,"t":1.2,"m":0.002},{"p":20,"t":1.28,"m":-0.002},{"p":20,"t":1.36,"m":-0.004},{"p":20,"t":1.44,"m":-0.004},{"p":20,"t":1.52,"m":-0.002},{"p":20,"t":1.6,"m":0.001},{"p":20,"t":1.68,"m":0.002},{"p":20,"t":1.77,"m":-0.007},{"p":20,"t":1.85,"m":0.003},{"p":20,"t":1.93,"m":0},{"p":20,"t":2.01,"m":-0.009},{"p":20,"t":2.09,"m":0.001},{"p":20,"t":2.17,"m":-0.001},{"p":20,"t":2.25,"m":0.008},{"p":20,"t":2.33,"m":0.003},{"p":20,"t":2.42,"m":0},{"p":20,"t":2.5,"m":0.004},{"p":20,"t":2.58,"m":0.005},{"p":20,"t":2.66,"m":-0.006},{"p":20,"t":2.74,"m":-0.002},{"p":20,"t":2.82,"m":0.001},{"p":20,"t":2.9,"m":0.007},{"p":20,"t":2.98,"m":0.003},{"p":20,"t":3.07,"m":0},{"p":20,"t":3.15,"m":-0.008},{"p":20,"t":3.23,"m":0.012},{"p":20,"t":3.31,"m":0.008},{"p":20,"t":3.39,"m":0.003},{"p":20,"t":3.47,"m":0},{"p":20,"t":3.55,"m":-0.001},{"p":20,"t":3.63,"m":-0.002},{"p":20,"t":3.72,"m":0.001},{"p":20,"t":3.8,"m":-0.003},{"p":20,"t":3.87,"m":-0.004},
{"p":21,"t":0,"m":-0.004},{"p":21,"t":0.03,"m":0.003},{"p":21,"t":0.07,"m":0.01},{"p":21,"t":0.1,"m":-0.002},{"p":21,"t":0.14,"m":0.001},{"p":21,"t":0.17,"m":-0.005},{"p":21,"t":0.2,"m":-0.001},{"p":21,"t":0.24,"m":0.002},{"p":21,"t":0.27,"m":-0.003},{"p":21,"t":0.31,"m":0},{"p":21,"t":0.34,"m":0.004},{"p":21,"t":0.37,"m":-0.006},{"p":21,"t":0.41,"m":0.001},{"p":21,"t":0.44,"m":-0.011},{"p":21,"t":0.48,"m":-0.003},{"p":21,"t":0.51,"m":0.002},{"p":21,"t":0.54,"m":-0.002},{"p":21,"t":0.58,"m":0.005},{"p":21,"t":0.61,"m":0},{"p":21,"t":0.65,"m":-0.004},{"p":21,"t":0.68,"m":0.003},{"p":21,"t":0.71,"m":0.011},{"p":21,"t":0.75,"m":0.006},{"p":21,"t":0.78,"m":-0.003},{"p":21,"t":0.82,"m":0.002},{"p":21,"t":0.85,"m":-0.007},{"p":21,"t":0.88,"m":0.001},{"p":21,"t":0.92,"m":0.009},{"p":21,"t":0.95,"m":-0.002},{"p":21,"t":0.99,"m":0.004},{"p":21,"t":1.02,"m":-0.005},{"p":21,"t":1.05,"m":0},{"p":21,"t":1.09,"m":0.003},{"p":21,"t":1.12,"m":-0.002},{"p":21,"t":1.16,"m":-0.007},{"p":21,"t":1.19,"m":0.002},{"p":21,"t":1.22,"m":0.005},{"p":21,"t":1.26,"m":-0.003},{"p":21,"t":1.29,"m":0},{"p":21,"t":1.33,"m":-0.006},{"p":21,"t":1.36,"m":0.003},{"p":21,"t":1.39,"m":0.001},{"p":21,"t":1.43,"m":-0.004},{"p":21,"t":1.46,"m":0.004},{"p":21,"t":1.5,"m":-0.001},{"p":21,"t":1.53,"m":0.002},{"p":21,"t":1.56,"m":-0.005},{"p":21,"t":1.6,"m":0},{"p":21,"t":1.63,"m":0.006},{"p":21,"t":1.67,"m":-0.002},{"p":21,"t":1.7,"m":0.003},{"p":21,"t":1.73,"m":-0.007},{"p":21,"t":1.77,"m":0.001},{"p":21,"t":1.8,"m":0.004},{"p":21,"t":1.84,"m":-0.003},{"p":21,"t":1.87,"m":0.002},{"p":21,"t":1.9,"m":-0.005},{"p":21,"t":1.94,"m":0.005},{"p":21,"t":1.97,"m":-0.001},{"p":21,"t":2.01,"m":0.018},{"p":21,"t":2.04,"m":0.025},{"p":21,"t":2.07,"m":0.003},{"p":21,"t":2.11,"m":-0.004},{"p":21,"t":2.14,"m":0.001},{"p":21,"t":2.18,"m":-0.008},{"p":21,"t":2.21,"m":0.004},{"p":21,"t":2.24,"m":-0.002},{"p":21,"t":2.28,"m":0.002},{"p":21,"t":2.31,"m":-0.006},{"p":21,"t":2.35,"m":0},{"p":21,"t":2.38,"m":0.005},{"p":21,"t":2.41,"m":-0.003},{"p":21,"t":2.45,"m":0.001},{"p":21,"t":2.48,"m":-0.007},{"p":21,"t":2.52,"m":0.003},{"p":21,"t":2.55,"m":-0.001},{"p":21,"t":2.58,"m":0.004},{"p":21,"t":2.62,"m":-0.004},{"p":21,"t":2.65,"m":0.001},{"p":21,"t":2.69,"m":-0.002},{"p":21,"t":2.72,"m":0.003},{"p":21,"t":2.75,"m":0.006},{"p":21,"t":2.79,"m":-0.003},{"p":21,"t":2.82,"m":0.002},{"p":21,"t":2.86,"m":0.006},{"p":21,"t":2.89,"m":0.008},{"p":21,"t":2.92,"m":0.019},{"p":21,"t":2.96,"m":0.004},{"p":21,"t":2.99,"m":-0.004},{"p":21,"t":3.03,"m":0.001},{"p":21,"t":3.06,"m":-0.002},{"p":21,"t":3.09,"m":0.005},{"p":21,"t":3.13,"m":0.011},{"p":21,"t":3.16,"m":0.003},{"p":21,"t":3.2,"m":-0.003},{"p":21,"t":3.23,"m":0.002},{"p":21,"t":3.26,"m":-0.005},{"p":21,"t":3.3,"m":-0.011},{"p":21,"t":3.33,"m":0.001},{"p":21,"t":3.37,"m":-0.006},{"p":21,"t":3.4,"m":0.004},{"p":21,"t":3.43,"m":-0.002},{"p":21,"t":3.47,"m":0},{"p":21,"t":3.5,"m":-0.008},{"p":21,"t":3.54,"m":0.003},{"p":21,"t":3.57,"m":-0.003},{"p":21,"t":3.6,"m":0.001},{"p":21,"t":3.64,"m":0.005},{"p":21,"t":3.67,"m":-0.004},{"p":21,"t":3.71,"m":0},{"p":21,"t":3.74,"m":-0.003},{"p":21,"t":3.77,"m":0.002},
{"p":22,"t":0.02,"m":0.006},{"p":22,"t":0.05,"m":-0.003},{"p":22,"t":0.09,"m":0.002},{"p":22,"t":0.12,"m":-0.004},{"p":22,"t":0.15,"m":0},{"p":22,"t":0.19,"m":-0.006},{"p":22,"t":0.22,"m":0.003},{"p":22,"t":0.25,"m":-0.002},{"p":22,"t":0.28,"m":-0.014},{"p":22,"t":0.32,"m":-0.01},{"p":22,"t":0.35,"m":-0.007},{"p":22,"t":0.38,"m":0.001},{"p":22,"t":0.42,"m":0.004},{"p":22,"t":0.45,"m":-0.002},{"p":22,"t":0.48,"m":0.006},{"p":22,"t":0.52,"m":0.003},{"p":22,"t":0.55,"m":-0.003},{"p":22,"t":0.58,"m":0.005},{"p":22,"t":0.61,"m":0},{"p":22,"t":0.65,"m":0.004},{"p":22,"t":0.68,"m":-0.002},{"p":22,"t":0.71,"m":0.003},{"p":22,"t":0.75,"m":0},{"p":22,"t":0.78,"m":-0.005},{"p":22,"t":0.81,"m":0.002},{"p":22,"t":0.85,"m":0.005},{"p":22,"t":0.88,"m":-0.001},{"p":22,"t":0.91,"m":0.003},{"p":22,"t":0.94,"m":-0.006},{"p":22,"t":0.98,"m":0.001},{"p":22,"t":1.01,"m":0.004},{"p":22,"t":1.04,"m":-0.002},{"p":22,"t":1.08,"m":0.002},{"p":22,"t":1.11,"m":0},{"p":22,"t":1.14,"m":-0.004},{"p":22,"t":1.18,"m":0.003},{"p":22,"t":1.21,"m":0.001},{"p":22,"t":1.24,"m":-0.002},{"p":22,"t":1.27,"m":0.002},{"p":22,"t":1.31,"m":-0.005},{"p":22,"t":1.34,"m":0.001},{"p":22,"t":1.37,"m":-0.003},
{"p":23,"t":0,"m":0.001},{"p":23,"t":0.03,"m":-0.002},{"p":23,"t":0.07,"m":0.009},{"p":23,"t":0.1,"m":0},{"p":23,"t":0.14,"m":-0.003},{"p":23,"t":0.17,"m":0.002},{"p":23,"t":0.2,"m":-0.001},{"p":23,"t":0.24,"m":0.003},{"p":23,"t":0.27,"m":-0.003},{"p":23,"t":0.31,"m":0},{"p":23,"t":0.34,"m":-0.002},{"p":23,"t":0.37,"m":0.002},{"p":23,"t":0.41,"m":-0.004},{"p":23,"t":0.44,"m":0.001},{"p":23,"t":0.48,"m":-0.001},{"p":23,"t":0.51,"m":0.004},{"p":23,"t":0.54,"m":-0.003},{"p":23,"t":0.58,"m":0},{"p":23,"t":0.61,"m":-0.002},{"p":23,"t":0.65,"m":0.002},{"p":23,"t":0.68,"m":-0.004},{"p":23,"t":0.71,"m":0.001},{"p":23,"t":0.75,"m":-0.001},{"p":23,"t":0.78,"m":0.005},{"p":23,"t":0.82,"m":-0.002},{"p":23,"t":0.85,"m":0},{"p":23,"t":0.88,"m":0.003},{"p":23,"t":0.92,"m":-0.003},{"p":23,"t":0.95,"m":0.001},{"p":23,"t":0.99,"m":-0.001},{"p":23,"t":1.02,"m":0.004},{"p":23,"t":1.05,"m":-0.002},{"p":23,"t":1.09,"m":0},{"p":23,"t":1.12,"m":0.01},{"p":23,"t":1.16,"m":0.002},{"p":23,"t":1.19,"m":-0.003},{"p":23,"t":1.22,"m":0.002},{"p":23,"t":1.26,"m":0.017},{"p":23,"t":1.29,"m":-0.002},{"p":23,"t":1.33,"m":0.003},{"p":23,"t":1.36,"m":0},{"p":23,"t":1.39,"m":-0.004},{"p":23,"t":1.43,"m":0.002},{"p":23,"t":1.46,"m":-0.001},{"p":23,"t":1.5,"m":0.004},{"p":23,"t":1.53,"m":-0.002},{"p":23,"t":1.56,"m":0},{"p":23,"t":1.6,"m":-0.005},{"p":23,"t":1.63,"m":0.002},{"p":23,"t":1.67,"m":-0.001},{"p":23,"t":1.7,"m":0.003},{"p":23,"t":1.73,"m":-0.003},{"p":23,"t":1.77,"m":0},{"p":23,"t":1.8,"m":0.002},{"p":23,"t":1.84,"m":-0.002},{"p":23,"t":1.87,"m":0.004},{"p":23,"t":1.9,"m":-0.001},{"p":23,"t":1.94,"m":0.001},{"p":23,"t":1.97,"m":-0.004},{"p":23,"t":2.01,"m":0.002},{"p":23,"t":2.04,"m":0},{"p":23,"t":2.07,"m":-0.002},{"p":23,"t":2.11,"m":0.003},{"p":23,"t":2.14,"m":-0.001},{"p":23,"t":2.18,"m":0.001},{"p":23,"t":2.21,"m":-0.003},{"p":23,"t":2.24,"m":0.002},{"p":23,"t":2.28,"m":0.004},{"p":23,"t":2.31,"m":-0.002},{"p":23,"t":2.35,"m":0},{"p":23,"t":2.38,"m":0.003},{"p":23,"t":2.41,"m":-0.004},{"p":23,"t":2.45,"m":-0.011},{"p":23,"t":2.48,"m":0.001},{"p":23,"t":2.52,"m":-0.002},{"p":23,"t":2.55,"m":0.003},{"p":23,"t":2.58,"m":0},{"p":23,"t":2.62,"m":-0.003},{"p":23,"t":2.65,"m":0.002},{"p":23,"t":2.69,"m":-0.005},{"p":23,"t":2.72,"m":0.001},{"p":23,"t":2.75,"m":0.004},{"p":23,"t":2.79,"m":-0.002},{"p":23,"t":2.82,"m":0},{"p":23,"t":2.86,"m":0.003},{"p":23,"t":2.89,"m":-0.001},{"p":23,"t":2.92,"m":0.002},{"p":23,"t":2.96,"m":-0.003},{"p":23,"t":2.99,"m":0},{"p":23,"t":3.03,"m":0.004},{"p":23,"t":3.06,"m":-0.002},{"p":23,"t":3.09,"m":0.001},{"p":23,"t":3.13,"m":0.003},{"p":23,"t":3.16,"m":-0.001},{"p":23,"t":3.2,"m":0.002},{"p":23,"t":3.23,"m":-0.004},{"p":23,"t":3.26,"m":0},{"p":23,"t":3.3,"m":0.003},{"p":23,"t":3.33,"m":-0.002},{"p":23,"t":3.37,"m":0.001},{"p":23,"t":3.4,"m":-0.007},{"p":23,"t":3.43,"m":0.002},{"p":23,"t":3.47,"m":0.004},{"p":23,"t":3.5,"m":-0.001},{"p":23,"t":3.54,"m":-0.002},{"p":23,"t":3.57,"m":0.004},{"p":23,"t":3.6,"m":0.02},{"p":23,"t":3.64,"m":-0.002},{"p":23,"t":3.67,"m":0.003},{"p":23,"t":3.71,"m":0},{"p":23,"t":3.74,"m":0.002},{"p":23,"t":3.77,"m":-0.001},
{"p":24,"t":0.04,"m":-0.001},{"p":24,"t":0.11,"m":0},{"p":24,"t":0.18,"m":-0.002},{"p":24,"t":0.25,"m":-0.003},{"p":24,"t":0.32,"m":0.001},{"p":24,"t":0.4,"m":0},{"p":24,"t":0.47,"m":-0.002},{"p":24,"t":0.54,"m":-0.002},{"p":24,"t":0.61,"m":-0.003},{"p":24,"t":0.68,"m":-0.004},{"p":24,"t":0.75,"m":-0.001},{"p":24,"t":0.82,"m":-0.005},{"p":24,"t":0.89,"m":0.003},{"p":24,"t":0.96,"m":0.002},{"p":24,"t":1.03,"m":0.002},{"p":24,"t":1.1,"m":0.001},{"p":24,"t":1.18,"m":0.001},{"p":24,"t":1.25,"m":0},{"p":24,"t":1.32,"m":0.001},{"p":24,"t":1.39,"m":0},{"p":24,"t":1.46,"m":-0.001},{"p":24,"t":1.53,"m":-0.002},{"p":24,"t":1.6,"m":-0.003},{"p":24,"t":1.67,"m":-0.002},{"p":24,"t":1.74,"m":-0.001},{"p":24,"t":1.81,"m":-0.002},{"p":24,"t":1.89,"m":0},{"p":24,"t":1.96,"m":0.003},{"p":24,"t":2.03,"m":0.004},{"p":24,"t":2.1,"m":-0.002},{"p":24,"t":2.17,"m":-0.001},{"p":24,"t":2.24,"m":0},{"p":24,"t":2.31,"m":0.002},{"p":24,"t":2.38,"m":0},{"p":24,"t":2.45,"m":0.003},{"p":24,"t":2.52,"m":0.002},{"p":24,"t":2.6,"m":0},{"p":24,"t":2.67,"m":-0.002},{"p":24,"t":2.74,"m":-0.002},{"p":24,"t":2.81,"m":-0.003},{"p":24,"t":2.88,"m":0.003},{"p":24,"t":2.95,"m":0.003},{"p":24,"t":3.02,"m":-0.002},{"p":24,"t":3.09,"m":-0.001},{"p":24,"t":3.16,"m":-0.004},{"p":24,"t":3.23,"m":0.005},{"p":24,"t":3.31,"m":0},{"p":24,"t":3.38,"m":0.003},{"p":24,"t":3.45,"m":0},{"p":24,"t":3.52,"m":0.004},{"p":24,"t":3.59,"m":0.001},{"p":24,"t":3.66,"m":0},{"p":24,"t":3.73,"m":0.005},{"p":24,"t":3.8,"m":-0.001},
{"p":25,"t":0,"m":-0.006},{"p":25,"t":0.07,"m":-0.003},{"p":25,"t":0.15,"m":-0.002},{"p":25,"t":0.22,"m":-0.005},{"p":25,"t":0.29,"m":0.002},{"p":25,"t":0.37,"m":0},{"p":25,"t":0.44,"m":0.003},{"p":25,"t":0.51,"m":0},{"p":25,"t":0.58,"m":-0.001},{"p":25,"t":0.66,"m":0},{"p":25,"t":0.73,"m":0.001},{"p":25,"t":0.8,"m":-0.003},{"p":25,"t":0.88,"m":0.004},{"p":25,"t":0.95,"m":0.003},{"p":25,"t":1.02,"m":0.003},{"p":25,"t":1.1,"m":0.003},{"p":25,"t":1.17,"m":0},{"p":25,"t":1.24,"m":-0.004},{"p":25,"t":1.31,"m":-0.001},{"p":25,"t":1.39,"m":0.005},{"p":25,"t":1.46,"m":0.002},{"p":25,"t":1.53,"m":0.002},{"p":25,"t":1.61,"m":-0.002},{"p":25,"t":1.68,"m":-0.002},{"p":25,"t":1.75,"m":-0.001},{"p":25,"t":1.83,"m":-0.007},{"p":25,"t":1.9,"m":0},{"p":25,"t":1.97,"m":-0.002},{"p":25,"t":2.04,"m":0.002},{"p":25,"t":2.12,"m":0.001},{"p":25,"t":2.19,"m":0.004},{"p":25,"t":2.26,"m":0.002},{"p":25,"t":2.34,"m":-0.001},{"p":25,"t":2.41,"m":-0.004},{"p":25,"t":2.48,"m":-0.006},{"p":25,"t":2.56,"m":0.002},{"p":25,"t":2.63,"m":0.004},{"p":25,"t":2.7,"m":-0.001},{"p":25,"t":2.77,"m":-0.002},{"p":25,"t":2.85,"m":-0.002},{"p":25,"t":2.92,"m":0},{"p":25,"t":2.99,"m":-0.001},{"p":25,"t":3.07,"m":0},{"p":25,"t":3.14,"m":-0.002},{"p":25,"t":3.21,"m":-0.001},{"p":25,"t":3.29,"m":-0.003},{"p":25,"t":3.36,"m":-0.004},{"p":25,"t":3.43,"m":-0.008},{"p":25,"t":3.5,"m":0.003},{"p":25,"t":3.58,"m":0.001},{"p":25,"t":3.65,"m":0},{"p":25,"t":3.72,"m":0},
{"p":26,"t":0.01,"m":-0.004},{"p":26,"t":0.08,"m":-0.008},{"p":26,"t":0.16,"m":-0.01},{"p":26,"t":0.23,"m":-0.003},{"p":26,"t":0.3,"m":-0.011},{"p":26,"t":0.38,"m":-0.002},{"p":26,"t":0.45,"m":-0.009},{"p":26,"t":0.52,"m":0.001},{"p":26,"t":0.59,"m":-0.001},{"p":26,"t":0.67,"m":0.003},{"p":26,"t":0.74,"m":0.002},{"p":26,"t":0.81,"m":0.007},{"p":26,"t":0.89,"m":0.007},{"p":26,"t":0.96,"m":0.001},{"p":26,"t":1.03,"m":0},{"p":26,"t":1.11,"m":-0.001},{"p":26,"t":1.18,"m":-0.008},{"p":26,"t":1.25,"m":-0.001},{"p":26,"t":1.32,"m":0.001},{"p":26,"t":1.4,"m":0.001},{"p":26,"t":1.47,"m":-0.001},{"p":26,"t":1.54,"m":0.004},{"p":26,"t":1.62,"m":-0.001},{"p":26,"t":1.69,"m":-0.001},{"p":26,"t":1.76,"m":0.008},{"p":26,"t":1.84,"m":-0.001},{"p":26,"t":1.91,"m":-0.003},{"p":26,"t":1.98,"m":0.001},{"p":26,"t":2.06,"m":-0.003},{"p":26,"t":2.13,"m":0.002},{"p":26,"t":2.2,"m":0.002},{"p":26,"t":2.27,"m":0.003},{"p":26,"t":2.35,"m":0.005},{"p":26,"t":2.42,"m":-0.001},{"p":26,"t":2.49,"m":-0.002},{"p":26,"t":2.57,"m":0.003},{"p":26,"t":2.64,"m":0.004},{"p":26,"t":2.71,"m":0.001},{"p":26,"t":2.79,"m":-0.001},{"p":26,"t":2.86,"m":0.001},{"p":26,"t":2.93,"m":0.006},{"p":26,"t":3,"m":0},{"p":26,"t":3.08,"m":-0.001},{"p":26,"t":3.15,"m":0.001},{"p":26,"t":3.22,"m":0},{"p":26,"t":3.3,"m":0.001},{"p":26,"t":3.37,"m":0.004},{"p":26,"t":3.44,"m":0.01},{"p":26,"t":3.52,"m":0.001},{"p":26,"t":3.59,"m":0.002},{"p":26,"t":3.66,"m":0.004},{"p":26,"t":3.73,"m":0.001},
{"p":27,"t":0,"m":-0.003},{"p":27,"t":0.07,"m":-0.003},{"p":27,"t":0.14,"m":-0.002},{"p":27,"t":0.21,"m":-0.001},{"p":27,"t":0.28,"m":-0.007},{"p":27,"t":0.35,"m":-0.002},{"p":27,"t":0.42,"m":0},{"p":27,"t":0.49,"m":0.003},{"p":27,"t":0.56,"m":-0.003},{"p":27,"t":0.63,"m":0.002},{"p":27,"t":0.7,"m":-0.002},{"p":27,"t":0.77,"m":0.002},{"p":27,"t":0.84,"m":0.001},{"p":27,"t":0.91,"m":-0.001},{"p":27,"t":0.98,"m":0.01},{"p":27,"t":1.05,"m":0.001},{"p":27,"t":1.12,"m":-0.001},{"p":27,"t":1.19,"m":0},{"p":27,"t":1.26,"m":-0.003},{"p":27,"t":1.33,"m":-0.002},{"p":27,"t":1.4,"m":-0.002},{"p":27,"t":1.47,"m":0.005},{"p":27,"t":1.54,"m":0.001},{"p":27,"t":1.61,"m":-0.001},{"p":27,"t":1.68,"m":-0.001},{"p":27,"t":1.75,"m":-0.001},{"p":27,"t":1.82,"m":0.003},{"p":27,"t":1.89,"m":-0.001},{"p":27,"t":1.96,"m":0},{"p":27,"t":2.03,"m":0.001},{"p":27,"t":2.1,"m":0},{"p":27,"t":2.17,"m":-0.001},{"p":27,"t":2.24,"m":0.001},{"p":27,"t":2.31,"m":-0.002},{"p":27,"t":2.38,"m":0.005},{"p":27,"t":2.45,"m":-0.001},{"p":27,"t":2.52,"m":0.001},{"p":27,"t":2.59,"m":0.003},{"p":27,"t":2.66,"m":-0.007},{"p":27,"t":2.73,"m":-0.005},{"p":27,"t":2.8,"m":-0.003},{"p":27,"t":2.87,"m":0},{"p":27,"t":2.94,"m":0.001},{"p":27,"t":3.01,"m":-0.002},{"p":27,"t":3.08,"m":-0.004},{"p":27,"t":3.15,"m":0.007},{"p":27,"t":3.22,"m":-0.001},{"p":27,"t":3.29,"m":-0.007},{"p":27,"t":3.36,"m":0},{"p":27,"t":3.43,"m":0.003},{"p":27,"t":3.5,"m":0.003},{"p":27,"t":3.57,"m":0.003},{"p":27,"t":3.64,"m":0.003},{"p":27,"t":3.71,"m":0.003},
{"p":28,"t":0.04,"m":0.003},{"p":28,"t":0.12,"m":-0.007},{"p":28,"t":0.19,"m":0.003},{"p":28,"t":0.27,"m":0.003},{"p":28,"t":0.35,"m":0.002},{"p":28,"t":0.43,"m":-0.008},{"p":28,"t":0.5,"m":-0.002},{"p":28,"t":0.58,"m":0},{"p":28,"t":0.66,"m":0.002},{"p":28,"t":0.73,"m":0.002},{"p":28,"t":0.81,"m":-0.009},{"p":28,"t":0.89,"m":0},{"p":28,"t":0.97,"m":0.005},{"p":28,"t":1.04,"m":-0.003},{"p":28,"t":1.12,"m":0.006},{"p":28,"t":1.2,"m":0.003},{"p":28,"t":1.27,"m":0.006},{"p":28,"t":1.35,"m":0.006},{"p":28,"t":1.43,"m":0},{"p":28,"t":1.5,"m":0.002},{"p":28,"t":1.58,"m":-0.002},{"p":28,"t":1.66,"m":0.005},{"p":28,"t":1.74,"m":0.002},{"p":28,"t":1.81,"m":-0.007},{"p":28,"t":1.89,"m":0},{"p":28,"t":1.97,"m":0.005},{"p":28,"t":2.04,"m":-0.004},{"p":28,"t":2.12,"m":-0.002},{"p":28,"t":2.2,"m":0.002},{"p":28,"t":2.27,"m":-0.003},{"p":28,"t":2.35,"m":0},{"p":28,"t":2.43,"m":0.005},{"p":28,"t":2.5,"m":-0.004},{"p":28,"t":2.58,"m":0},{"p":28,"t":2.66,"m":0.001},{"p":28,"t":2.74,"m":-0.001},{"p":28,"t":2.81,"m":-0.001},{"p":28,"t":2.89,"m":0.001},{"p":28,"t":2.97,"m":0.004},{"p":28,"t":3.04,"m":0.001},{"p":28,"t":3.12,"m":0.003},{"p":28,"t":3.2,"m":-0.008},{"p":28,"t":3.27,"m":-0.008},{"p":28,"t":3.35,"m":-0.011},{"p":28,"t":3.43,"m":-0.007},{"p":28,"t":3.5,"m":-0.001},{"p":28,"t":3.58,"m":0.002},{"p":28,"t":3.66,"m":0},{"p":28,"t":3.74,"m":0.003},{"p":28,"t":3.81,"m":0.012},
{"p":29,"t":-0.03,"m":0.002},{"p":29,"t":0.13,"m":0},{"p":29,"t":0.27,"m":0.01},{"p":29,"t":0.41,"m":-0.005},{"p":29,"t":0.55,"m":0.002},{"p":29,"t":0.68,"m":0.004},{"p":29,"t":0.82,"m":-0.001},{"p":29,"t":0.96,"m":0.001},{"p":29,"t":1.11,"m":-0.001},{"p":29,"t":1.25,"m":-0.003},{"p":29,"t":1.38,"m":-0.001},{"p":29,"t":1.52,"m":0.002},{"p":29,"t":1.66,"m":-0.005},{"p":29,"t":1.8,"m":0.004},{"p":29,"t":1.94,"m":0},{"p":29,"t":2.07,"m":0},{"p":29,"t":2.21,"m":-0.003},{"p":29,"t":2.35,"m":0.001},{"p":29,"t":2.62,"m":0.001},{"p":29,"t":2.76,"m":0.001},{"p":29,"t":2.91,"m":0.005},{"p":29,"t":3.05,"m":-0.01},{"p":29,"t":3.19,"m":-0.006},{"p":29,"t":3.32,"m":0.002},{"p":29,"t":3.46,"m":-0.005},{"p":29,"t":3.6,"m":0.006},{"p":29,"t":3.73,"m":-0.007},
{"p":30,"t":0.02,"m":0.008},{"p":30,"t":0.16,"m":0.003},{"p":30,"t":0.3,"m":0.003},{"p":30,"t":0.43,"m":0.006},{"p":30,"t":0.57,"m":0.01},{"p":30,"t":0.84,"m":-0.001},{"p":30,"t":0.98,"m":0.003},{"p":30,"t":1.13,"m":-0.008},{"p":30,"t":1.27,"m":-0.001},{"p":30,"t":1.41,"m":0.003},{"p":30,"t":1.55,"m":-0.005},{"p":30,"t":1.7,"m":0.003},{"p":30,"t":1.84,"m":0.001},{"p":30,"t":1.97,"m":0.003},{"p":30,"t":2.11,"m":-0.007},{"p":30,"t":2.25,"m":-0.006},{"p":30,"t":2.38,"m":-0.003},{"p":30,"t":2.52,"m":-0.006},{"p":30,"t":2.65,"m":-0.008},{"p":30,"t":2.79,"m":-0.008},{"p":30,"t":2.93,"m":-0.007},{"p":30,"t":3.07,"m":-0.001},{"p":30,"t":3.21,"m":0.005},{"p":30,"t":3.34,"m":0.007},{"p":30,"t":3.48,"m":0.003},{"p":30,"t":3.62,"m":-0.007},{"p":30,"t":3.77,"m":0.001},
{"p":31,"t":0,"m":0.005},{"p":31,"t":0.11,"m":0.005},{"p":31,"t":0.29,"m":0.005},{"p":31,"t":0.36,"m":-0.002},{"p":31,"t":0.45,"m":-0.004},{"p":31,"t":0.54,"m":0.006},{"p":31,"t":0.63,"m":0.004},{"p":31,"t":0.72,"m":0.006},{"p":31,"t":0.88,"m":-0.001},{"p":31,"t":0.98,"m":0.008},{"p":31,"t":1.06,"m":-0.004},{"p":31,"t":1.14,"m":-0.003},{"p":31,"t":1.21,"m":-0.003},{"p":31,"t":1.28,"m":-0.002},{"p":31,"t":1.35,"m":-0.001},{"p":31,"t":1.43,"m":0.001},{"p":31,"t":1.51,"m":-0.003},{"p":31,"t":1.58,"m":-0.003},{"p":31,"t":1.64,"m":-0.003},{"p":31,"t":1.71,"m":-0.004},{"p":31,"t":1.78,"m":-0.003},{"p":31,"t":1.85,"m":-0.002},{"p":31,"t":1.92,"m":-0.006},{"p":31,"t":1.99,"m":-0.002},{"p":31,"t":2.06,"m":-0.001},{"p":31,"t":2.13,"m":0},{"p":31,"t":2.21,"m":-0.001},{"p":31,"t":2.28,"m":-0.001},{"p":31,"t":2.35,"m":-0.002},{"p":31,"t":2.42,"m":-0.002},{"p":31,"t":2.5,"m":-0.004},{"p":31,"t":2.57,"m":-0.001},{"p":31,"t":2.64,"m":-0.001},{"p":31,"t":2.72,"m":0},{"p":31,"t":2.79,"m":-0.001},{"p":31,"t":2.86,"m":-0.003},{"p":31,"t":2.94,"m":0.003},{"p":31,"t":3.01,"m":0.002},{"p":31,"t":3.09,"m":-0.003},{"p":31,"t":3.16,"m":-0.003},{"p":31,"t":3.23,"m":-0.002},{"p":31,"t":3.3,"m":0.004},{"p":31,"t":3.38,"m":0.001},{"p":31,"t":3.45,"m":-0.001},{"p":31,"t":3.52,"m":-0.001},{"p":31,"t":3.59,"m":0},{"p":31,"t":3.66,"m":0.003},{"p":31,"t":3.73,"m":-0.007},{"p":31,"t":3.8,"m":0},
{"p":32,"t":0.04,"m":0},{"p":32,"t":0.11,"m":0.004},{"p":32,"t":0.2,"m":0.005},{"p":32,"t":0.29,"m":0.003},{"p":32,"t":0.38,"m":-0.006},{"p":32,"t":0.48,"m":0.001},{"p":32,"t":0.57,"m":-0.005},{"p":32,"t":0.64,"m":0.001},{"p":32,"t":0.74,"m":0},{"p":32,"t":0.82,"m":-0.005},{"p":32,"t":0.91,"m":-0.005},{"p":32,"t":0.98,"m":-0.005},{"p":32,"t":1.07,"m":-0.004},{"p":32,"t":1.14,"m":0},{"p":32,"t":1.21,"m":-0.003},{"p":32,"t":1.28,"m":-0.004},{"p":32,"t":1.36,"m":-0.004},{"p":32,"t":1.43,"m":-0.003},{"p":32,"t":1.52,"m":-0.007},{"p":32,"t":1.6,"m":0.002},{"p":32,"t":1.68,"m":-0.003},{"p":32,"t":1.76,"m":-0.005},{"p":32,"t":1.85,"m":-0.003},{"p":32,"t":1.94,"m":-0.006},{"p":32,"t":2.03,"m":0.004},{"p":32,"t":2.1,"m":-0.002},{"p":32,"t":2.17,"m":-0.001},{"p":32,"t":2.24,"m":-0.002},{"p":32,"t":2.33,"m":-0.002},{"p":32,"t":2.4,"m":0.003},{"p":32,"t":2.47,"m":0.01},{"p":32,"t":2.54,"m":0.003},{"p":32,"t":2.61,"m":0},{"p":32,"t":2.69,"m":-0.004},{"p":32,"t":2.77,"m":0.001},{"p":32,"t":2.84,"m":-0.002},{"p":32,"t":2.91,"m":-0.001},{"p":32,"t":2.99,"m":0},{"p":32,"t":3.06,"m":0.003},{"p":32,"t":3.13,"m":0.005},{"p":32,"t":3.22,"m":-0.001},{"p":32,"t":3.31,"m":0.006},{"p":32,"t":3.39,"m":-0.004},{"p":32,"t":3.48,"m":0},{"p":32,"t":3.57,"m":0.005},{"p":32,"t":3.65,"m":0.002},{"p":32,"t":3.73,"m":0.005},{"p":32,"t":3.8,"m":0.008},{"p":32,"t":3.87,"m":0.007}
]},
"transform":[{"joinaggregate":[{"op":"max","field":"e","as":"E"}],"groupby":["p"]}],
"facet":{"field":"p","type":"ordinal","header":{"title":null,"labels":false,"labelExpr":"''","labelFontSize":0,"labelPadding":0,"titlePadding":0}},
"columns":4,
"spacing":0,
"spec":{
"width":185,
"height":119,
"resolve":{"axis":{"x":"independent","y":"independent"}},
"layer":[
{"transform":[{"filter":"isValid(datum.t)"}],
"mark":{"type":"errorbar","thickness":1.5},
"encoding":{
"x":{"field":"t","type":"quantitative","scale":{"domain":[-0.1,3.9],"nice":false,"zero":false},"axis":{"orient":"bottom","tickCount":8,"grid":true,"gridDash":[5,109,5],"title":"Time (h)"}},
"y":{"field":"m","type":"quantitative","scale":{"domain":[-0.0395,0.0395],"nice":false,"zero":false,"reverse":true},"axis":{"orient":"left","tickCount":8,"grid":true,"gridDash":[5,175,5],"title":"Δ m (mag)"}},
"yError":{"field":"E"},
"color":{"condition":{"test":"datum.p>=20","value":"#a8a8a8"},"value":"#8a8a8a"}}},
{"transform":[{"filter":"isValid(datum.t)"}],
"mark":{"type":"circle","size":24,"opacity":1},
"encoding":{
"x":{"field":"t","type":"quantitative","axis":{"orient":"top","tickCount":40,"grid":true,"gridDash":[2.5,114,2.5],"labels":false,"title":null}},
"y":{"field":"m","type":"quantitative","axis":{"orient":"right","tickCount":40,"grid":true,"gridDash":[2.5,180,2.5],"labels":false,"title":null}},
"color":{"condition":{"test":"datum.p>=20","value":"#8c8c8c"},"value":"#000000"}}},
{"transform":[{"filter":"isValid(datum.n)"}],
"mark":{"type":"text","align":"left","baseline":"middle","font":"DejaVu Sans","fontSize":11.5,"color":"#000"},
"encoding":{"x":{"datum":1.45,"type":"quantitative","axis":null},"y":{"datum":-0.0303,"type":"quantitative","axis":null},"text":{"field":"n"}}},
{"transform":[{"filter":"isValid(datum.n)"}],
"mark":{"type":"text","align":"left","baseline":"middle","font":"Liberation Serif","fontSize":12,"lineBreak":"\n","lineHeight":12.5,"color":"#000"},
"encoding":{"x":{"datum":0.02,"type":"quantitative","axis":null},"y":{"datum":0.0256,"type":"quantitative","axis":null},"text":{"field":"s"}}}
]},
"config":{
"view":{"stroke":"#000","strokeWidth":2},
"axis":{"domain":false,"ticks":false,"gridColor":"#000","gridOpacity":1,"gridWidth":1,"labelFont":"DejaVu Sans","labelFontSize":11,"labelColor":"#000","labelPadding":4,"labelFlush":false,"labelOverlap":false,"titleFont":"DejaVu Sans","titleFontSize":11,"titleFontWeight":"normal","titleColor":"#000"},
"axisX":{"titlePadding":8},
"axisY":{"titlePadding":4},
"header":{"labels":false,"title":null,"labelPadding":0,"titlePadding":0},
"headerFacet":{"labels":false,"title":null,"labelPadding":0,"titlePadding":0},
"facet":{"spacing":0}
}
}
